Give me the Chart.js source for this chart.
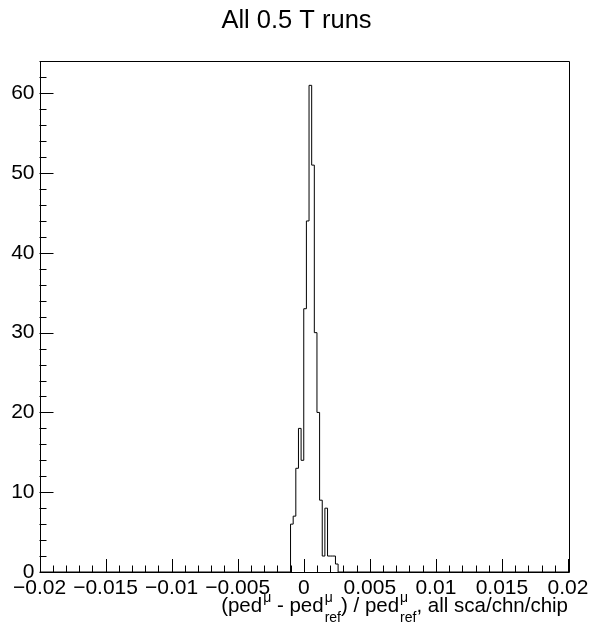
<!DOCTYPE html>
<html>
<head>
<meta charset="utf-8">
<script src="https://cdn.jsdelivr.net/npm/chart.js@4.4.0/dist/chart.umd.min.js"></script>
<style>
  html, body { margin: 0; padding: 0; background: #fff; }
  canvas { display: block; }
</style>
</head>
<body>
<canvas id="chart" width="593" height="627"></canvas>
<script>
// histogram bins (low edges, width 0.0002), everything else is empty
const binLow = [-0.001, -0.0008, -0.0006, -0.0004, -0.0002, 0, 0.0002, 0.0004, 0.0006,
  0.0008, 0.001, 0.0012, 0.0014, 0.0016, 0.0018, 0.002, 0.0022, 0.0024];
const binCounts = [6, 7, 13, 18, 14, 33, 44, 61, 51, 30, 20, 9, 2, 8, 2, 2, 2, 1];
const lastEdge = 0.0026;

const xTicks = [-0.02, -0.015, -0.01, -0.005, 0, 0.005, 0.01, 0.015, 0.02];
const xTickLabels = ["\u22120.02", "\u22120.015", "\u22120.01", "\u22120.005", "0", "0.005", "0.01", "0.015", "0.02"];
const yTicks = [0, 10, 20, 30, 40, 50, 60];
const yTickLabels = ["0", "10", "20", "30", "40", "50", "60"];

const titleText = "All 0.5 T runs";
const FONT = "'Liberation Sans', Arial, Helvetica, sans-serif";

// outline points: start at range edge, step through bins, back to zero
const points = [{ x: -0.02, y: 0 }];
binLow.forEach((x, i) => points.push({ x: x, y: binCounts[i] }));
points.push({ x: lastEdge, y: 0 });
points.push({ x: 0.02, y: 0 });

const rootFrame = {
  id: "rootFrame",
  afterDraw(chart) {
    const ctx = chart.ctx;
    const a = chart.chartArea;
    const xs = chart.scales.x;
    const ys = chart.scales.y;
    ctx.save();
    ctx.strokeStyle = "#000";
    ctx.lineWidth = 1;
    ctx.beginPath();
    ctx.rect(Math.round(a.left) + 0.5, Math.round(a.top) + 0.5,
      Math.round(a.right - a.left), Math.round(a.bottom - a.top));
    ctx.stroke();

    // x ticks: major every 0.005, minor every 0.001
    ctx.beginPath();
    for (let k = -20; k <= 20; k++) {
      const px = Math.round(xs.getPixelForValue(k / 1000)) + 0.5;
      const len = k % 5 === 0 ? 13 : 6.5;
      ctx.moveTo(px, a.bottom);
      ctx.lineTo(px, a.bottom - len);
    }
    // y ticks: major every 10, minor every 2
    for (let v = 0; v <= ys.max; v += 2) {
      const py = Math.round(ys.getPixelForValue(v)) + 0.5;
      const len = v % 10 === 0 ? 14 : 7;
      ctx.moveTo(a.left, py);
      ctx.lineTo(a.left + len, py);
    }
    ctx.stroke();

    // x axis title with super/subscripts, right aligned to the frame
    const big = "20.5px " + FONT, small = "14px " + FONT;
    const parts = [
      { t: "(ped" }, { sup: "\u03bc" }, { t: " - ped" }, { sup: "\u03bc", sub: "ref" },
      { t: ") / ped" }, { sup: "\u03bc", sub: "ref" }, { t: ", all sca/chn/chip" }
    ];
    const widths = parts.map(p => {
      if (p.t) { ctx.font = big; return ctx.measureText(p.t).width; }
      ctx.font = small;
      return Math.max(ctx.measureText(p.sup).width, p.sub ? ctx.measureText(p.sub).width : 0) + 1;
    });
    const total = widths.reduce((s, w) => s + w, 0);
    let x = a.right - total;
    const base = 612;
    ctx.fillStyle = "#000";
    ctx.textBaseline = "alphabetic";
    ctx.textAlign = "left";
    parts.forEach((p, i) => {
      if (p.t) {
        ctx.font = big;
        ctx.fillText(p.t, x, base);
      } else {
        ctx.font = small;
        ctx.fillText(p.sup, x + 1, base - 10);
        if (p.sub) ctx.fillText(p.sub, x + 1, base + 10);
      }
      x += widths[i];
    });
    ctx.restore();
  }
};

new Chart(document.getElementById("chart"), {
  type: "line",
  data: {
    datasets: [{
      data: points,
      stepped: "before",
      borderColor: "#000",
      borderWidth: 1,
      pointRadius: 0,
      fill: false
    }]
  },
  options: {
    responsive: false,
    animation: false,
    layout: { padding: 0 },
    plugins: {
      legend: { display: false },
      tooltip: { enabled: false },
      title: {
        display: true,
        text: titleText,
        color: "#000",
        font: { family: FONT, size: 25.5, weight: "normal", lineHeight: 1.2 },
        padding: { top: 6, bottom: 24.4 }
      }
    },
    scales: {
      x: {
        type: "linear",
        min: -0.02,
        max: 0.02,
        grid: { display: false, drawTicks: false },
        border: { display: false },
        afterBuildTicks: (scale) => { scale.ticks = xTicks.map(v => ({ value: v })); },
        afterFit: (scale) => { scale.height = 55; },
        ticks: {
          autoSkip: false,
          maxRotation: 0,
          padding: 4,
          color: "#000",
          font: { family: FONT, size: 21 },
          callback: (value, index) => xTickLabels[index]
        }
      },
      y: {
        type: "linear",
        min: 0,
        max: 64.05,
        grid: { display: false, drawTicks: false },
        border: { display: false },
        afterBuildTicks: (scale) => { scale.ticks = yTicks.map(v => ({ value: v })); },
        afterFit: (scale) => { scale.width = 39.5; },
        ticks: {
          padding: 5,
          color: "#000",
          font: { family: FONT, size: 21 },
          callback: (value, index) => yTickLabels[index]
        }
      },
      // empty right axis, only keeps the right margin of the pad
      yRight: {
        type: "linear",
        position: "right",
        min: 0,
        max: 64.05,
        grid: { display: false, drawTicks: false },
        border: { display: false },
        ticks: { display: false },
        afterFit: (scale) => { scale.width = 25; }
      }
    }
  },
  plugins: [rootFrame]
});
</script>
</body>
</html>
